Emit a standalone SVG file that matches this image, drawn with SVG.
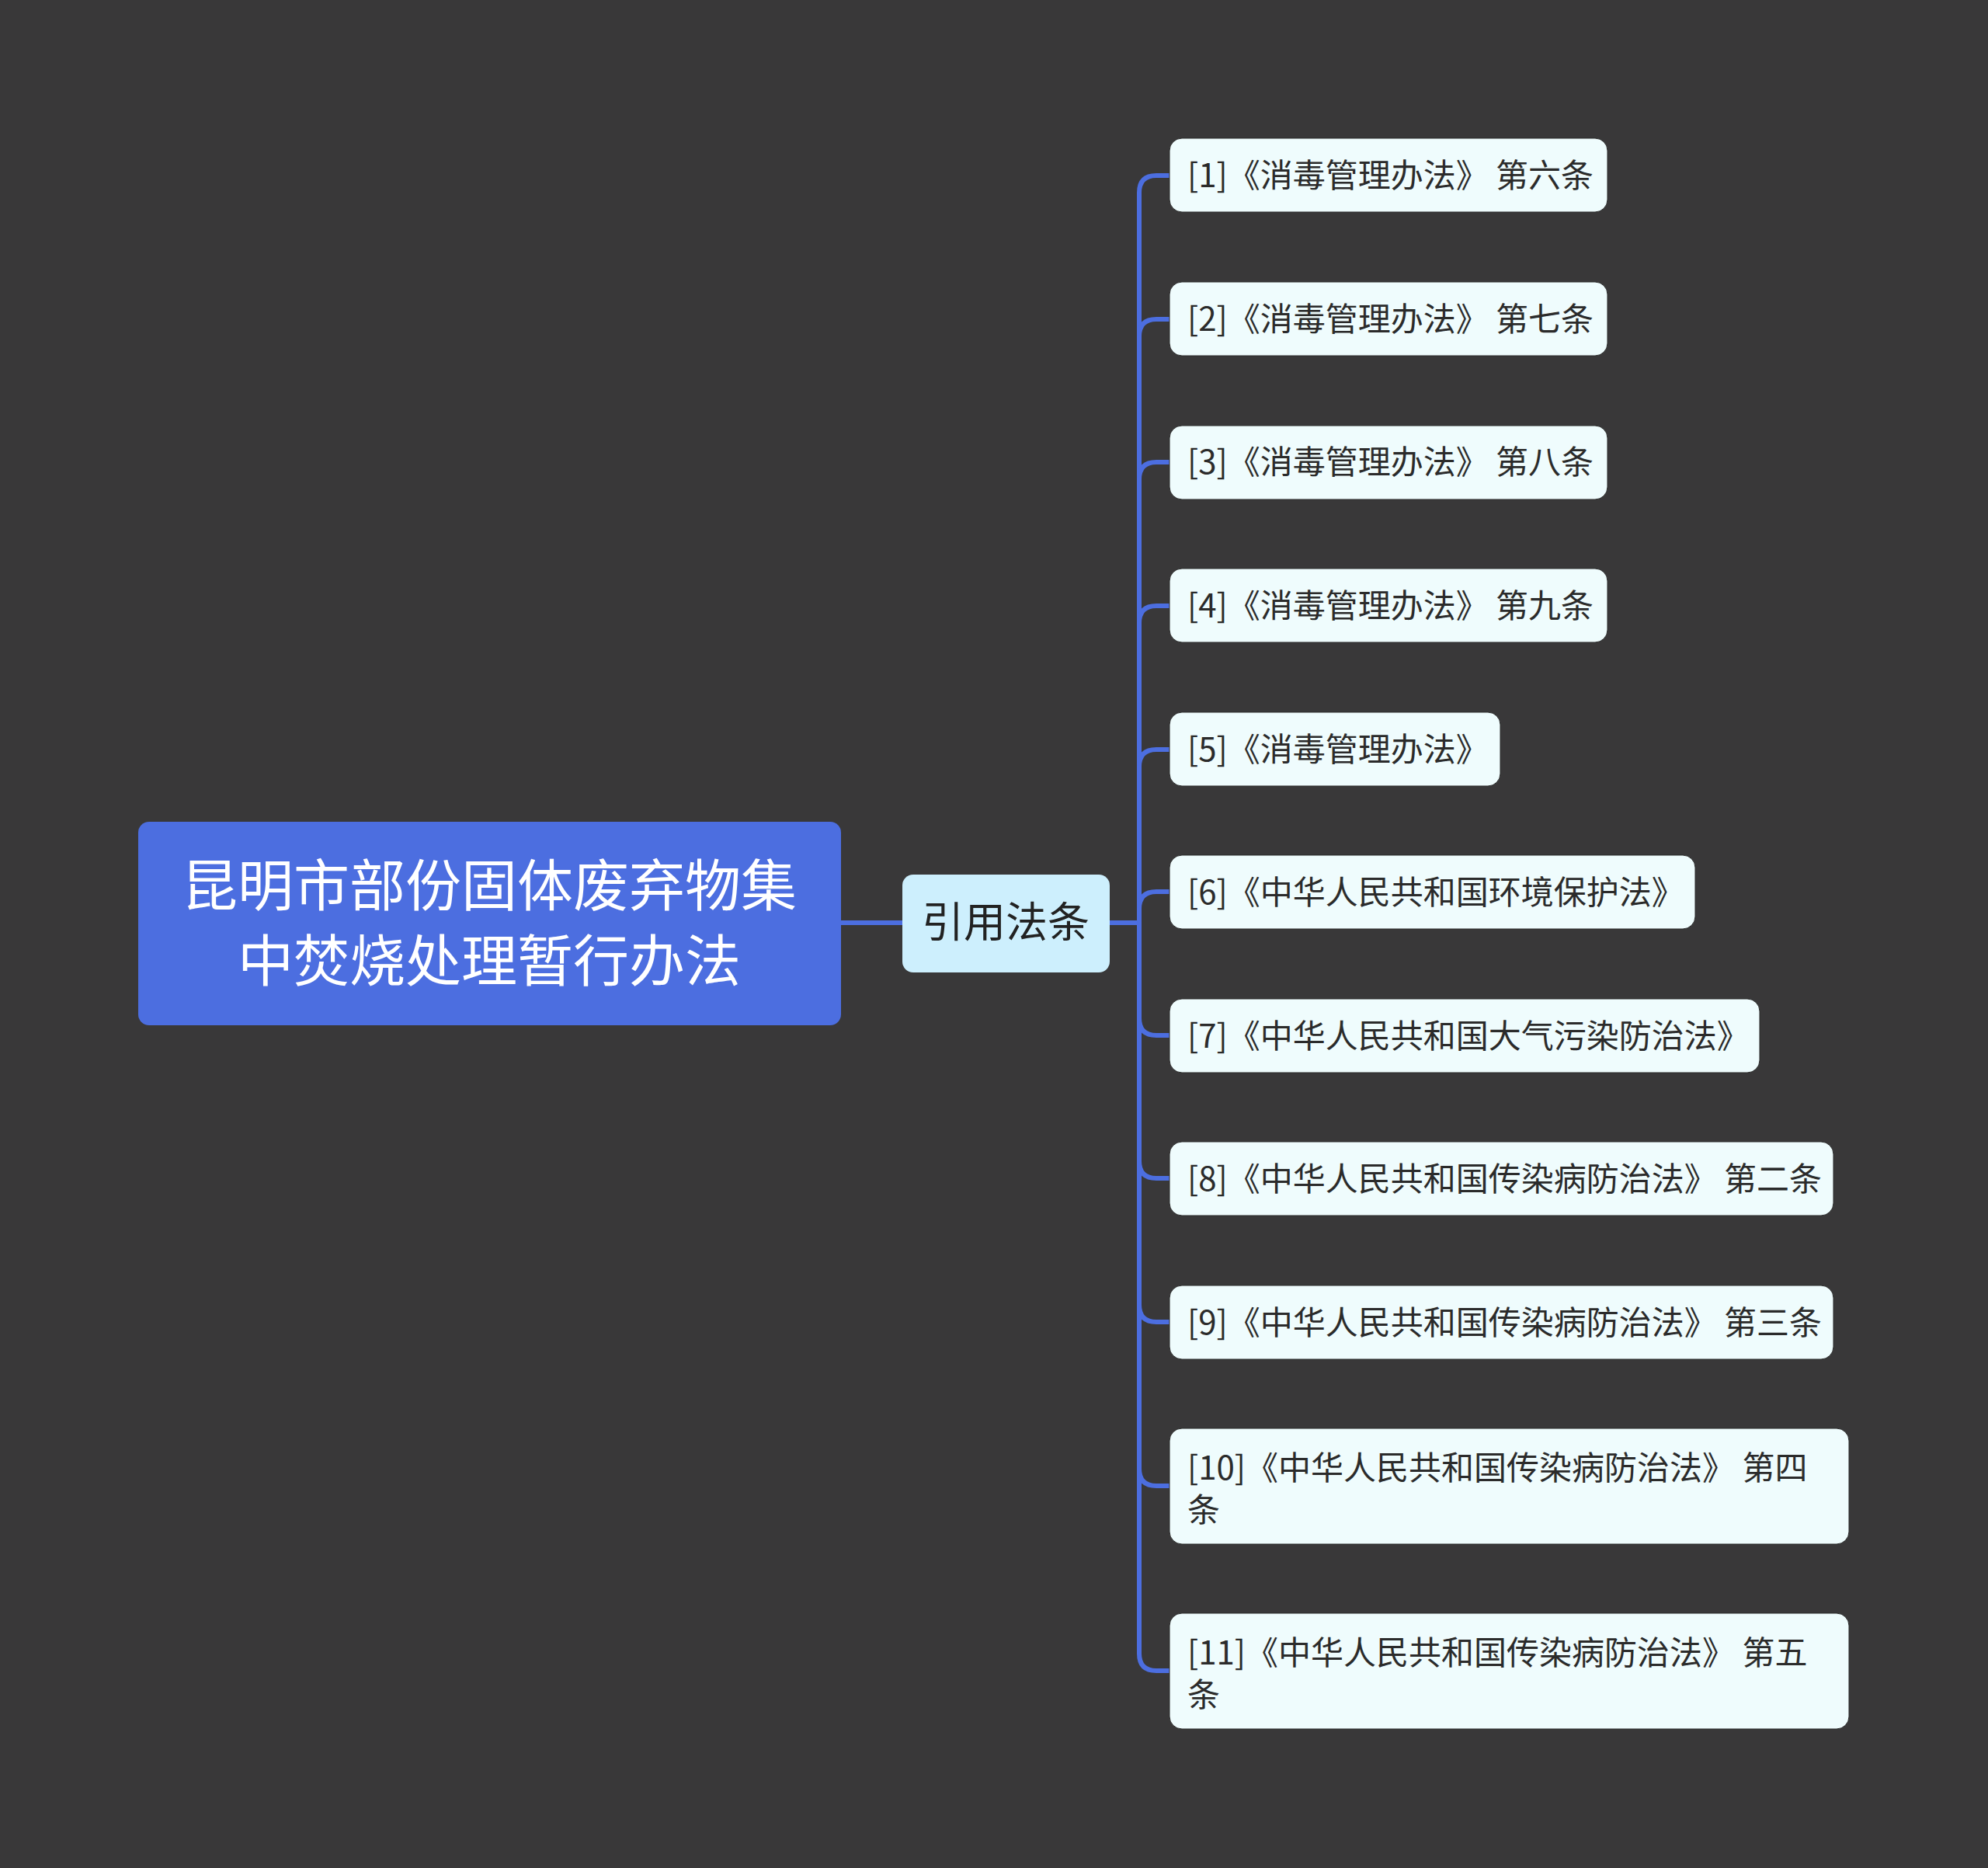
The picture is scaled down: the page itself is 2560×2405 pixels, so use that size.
<svg xmlns="http://www.w3.org/2000/svg" width="2560" height="2405" viewBox="0 0 2560 2405">
<style>
.bg{fill:#393839}
.conn{fill:none;stroke:#4C6EE0;stroke-width:6;stroke-linecap:round}
.root rect{fill:#4C6EE0}
.root text{fill:#FFFFFF;font-size:72px;text-anchor:middle}
.mid rect{fill:#CDEFFD}
.mid text{fill:#222222;font-size:54px;text-anchor:middle}
.leaf rect{fill:#EFFCFD;stroke:#2a2a2a;stroke-width:1}
.leaf text{fill:#2B2B2B;font-size:42px}
text{font-family:"Noto Sans CJK SC","Noto Sans",sans-serif}
</style>
<rect class="bg" x="0" y="0" width="2560" height="2405"/>
<g id="connectors">
<path class="conn" d="M1083,1188 H1162"/>
<path class="conn" d="M1429,1188 H1467"/>
<path class="conn" d="M1467,1188 V248 Q1467,226 1489,226 H1506"/>
<path class="conn" d="M1467,1188 V433 Q1467,411 1489,411 H1506"/>
<path class="conn" d="M1467,1188 V617 Q1467,595 1489,595 H1506"/>
<path class="conn" d="M1467,1188 V802 Q1467,780 1489,780 H1506"/>
<path class="conn" d="M1467,1188 V987 Q1467,965 1489,965 H1506"/>
<path class="conn" d="M1467,1188 V1170 Q1467,1148 1489,1148 H1506"/>
<path class="conn" d="M1467,1188 V1311 Q1467,1333 1489,1333 H1506"/>
<path class="conn" d="M1467,1188 V1495 Q1467,1517 1489,1517 H1506"/>
<path class="conn" d="M1467,1188 V1680 Q1467,1702 1489,1702 H1506"/>
<path class="conn" d="M1467,1188 V1891 Q1467,1913 1489,1913 H1506"/>
<path class="conn" d="M1467,1188 V2129 Q1467,2151 1489,2151 H1506"/>
</g>
<g id="root" class="root">
<rect x="178" y="1058" width="905" height="262" rx="14"/>
<text x="630" y="1166">昆明市部份固体废弃物集</text>
<text x="630" y="1263">中焚烧处理暂行办法</text>
</g>
<g id="mid" class="mid">
<rect x="1162" y="1126" width="267" height="126" rx="14"/>
<text x="1295" y="1207">引用法条</text>
</g>
<g id="leaf1" class="leaf"><rect x="1506" y="178" width="564" height="95" rx="16"/><text x="1529" y="241">[1]《消毒管理办法》 第六条</text></g>
<g id="leaf2" class="leaf"><rect x="1506" y="363" width="564" height="95" rx="16"/><text x="1529" y="426">[2]《消毒管理办法》 第七条</text></g>
<g id="leaf3" class="leaf"><rect x="1506" y="548" width="564" height="95" rx="16"/><text x="1529" y="610">[3]《消毒管理办法》 第八条</text></g>
<g id="leaf4" class="leaf"><rect x="1506" y="732" width="564" height="95" rx="16"/><text x="1529" y="795">[4]《消毒管理办法》 第九条</text></g>
<g id="leaf5" class="leaf"><rect x="1506" y="917" width="426" height="95" rx="16"/><text x="1529" y="980">[5]《消毒管理办法》</text></g>
<g id="leaf6" class="leaf"><rect x="1506" y="1101" width="677" height="95" rx="16"/><text x="1529" y="1164">[6]《中华人民共和国环境保护法》</text></g>
<g id="leaf7" class="leaf"><rect x="1506" y="1286" width="760" height="95" rx="16"/><text x="1529" y="1349">[7]《中华人民共和国大气污染防治法》</text></g>
<g id="leaf8" class="leaf"><rect x="1506" y="1470" width="855" height="95" rx="16"/><text x="1529" y="1533">[8]《中华人民共和国传染病防治法》 第二条</text></g>
<g id="leaf9" class="leaf"><rect x="1506" y="1655" width="855" height="95" rx="16"/><text x="1529" y="1718">[9]《中华人民共和国传染病防治法》 第三条</text></g>
<g id="leaf10" class="leaf"><rect x="1506" y="1839" width="875" height="149" rx="16"/><text x="1529" y="1905">[10]《中华人民共和国传染病防治法》 第四</text><text x="1529" y="1959">条</text></g>
<g id="leaf11" class="leaf"><rect x="1506" y="2077" width="875" height="149" rx="16"/><text x="1529" y="2143">[11]《中华人民共和国传染病防治法》 第五</text><text x="1529" y="2197">条</text></g>
</svg>
